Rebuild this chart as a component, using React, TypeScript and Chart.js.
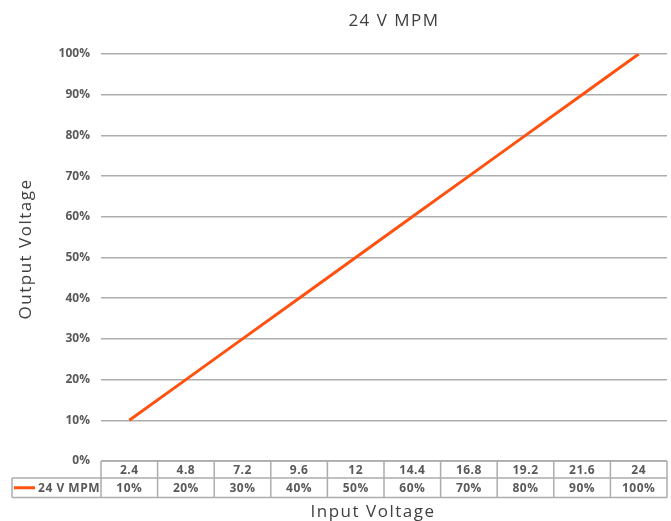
import React, { useEffect, useRef } from "react";
import { Chart, registerables } from "chart.js";

Chart.register(...registerables);

const chartTitle = "24 V MPM";
const seriesName = "24 V MPM";
const inputVoltages = ["2.4", "4.8", "7.2", "9.6", "12", "14.4", "16.8", "19.2", "21.6", "24"];
const outputPercent = [10, 20, 30, 40, 50, 60, 70, 80, 90, 100];
const xAxisTitle = "Input Voltage";
const yAxisTitle = "Output Voltage";

const FONT = "'Open Sans', 'Noto Sans', sans-serif";
const LINE_COLOR = "#FF5210";
const GRID_COLOR = "#ADADAD";
const TEXT_COLOR = "#595959";
const TITLE_COLOR = "#404040";

const tablePlugin = {
  id: "dataTable",
  afterDraw(chart: any) {
    const ctx = chart.ctx;
    const area = chart.chartArea;
    const xs = chart.scales.x;
    const n = inputVoltages.length;
    const colW = (area.right - area.left) / n;
    const r1Top = area.bottom;
    const r1Bot = r1Top + 17;
    const r2Bot = r1Bot + 19.5;
    const legLeft = 12;

    ctx.save();
    ctx.strokeStyle = GRID_COLOR;
    ctx.lineWidth = 1.5;
    ctx.beginPath();
    ctx.moveTo(area.left, r1Top);
    ctx.lineTo(area.right, r1Top);
    ctx.moveTo(legLeft, r1Bot);
    ctx.lineTo(area.right, r1Bot);
    ctx.moveTo(legLeft, r2Bot);
    ctx.lineTo(area.right, r2Bot);
    for (let i = 0; i <= n; i++) {
      const x = area.left + i * colW;
      ctx.moveTo(x, r1Top);
      ctx.lineTo(x, r2Bot);
    }
    ctx.moveTo(legLeft, r1Bot);
    ctx.lineTo(legLeft, r2Bot);
    ctx.stroke();

    ctx.fillStyle = TEXT_COLOR;
    ctx.font = `bold 12px ${FONT}`;
    (ctx as any).letterSpacing = "0.5px";
    ctx.textAlign = "center";
    ctx.textBaseline = "middle";
    for (let i = 0; i < n; i++) {
      const cx = xs.getPixelForValue(i);
      ctx.fillText(inputVoltages[i], cx, (r1Top + r1Bot) / 2 + 1);
      ctx.fillText(outputPercent[i] + "%", cx, (r1Bot + r2Bot) / 2 + 1);
    }

    // legend key
    const ly = (r1Bot + r2Bot) / 2;
    ctx.strokeStyle = LINE_COLOR;
    ctx.lineWidth = 3;
    ctx.beginPath();
    ctx.moveTo(legLeft + 2, ly);
    ctx.lineTo(legLeft + 23, ly);
    ctx.stroke();
    ctx.textAlign = "right";
    ctx.fillText(seriesName, area.left - 1, ly + 1);

    // titles
    ctx.fillStyle = TITLE_COLOR;
    ctx.font = `400 17px ${FONT}`;
    (ctx as any).letterSpacing = "1.5px";
    ctx.textAlign = "center";
    ctx.fillText(xAxisTitle, 373, 512);
    ctx.fillText(chartTitle, 394, 21);
    ctx.save();
    ctx.translate(26, 249);
    ctx.rotate(-Math.PI / 2);
    ctx.fillText(yAxisTitle, 0, 0);
    ctx.restore();
    (ctx as any).letterSpacing = "0px";
    ctx.restore();
  },
};

export default function App() {
  const ref = useRef<HTMLCanvasElement>(null);
  useEffect(() => {
    if (!ref.current) return;
    const chart = new Chart(ref.current, {
      type: "line",
      data: {
        labels: inputVoltages,
        datasets: [
          {
            label: seriesName,
            data: outputPercent,
            borderColor: LINE_COLOR,
            backgroundColor: LINE_COLOR,
            borderWidth: 3,
            pointRadius: 0,
            tension: 0,
          },
        ],
      },
      options: {
        animation: false,
        responsive: true,
        maintainAspectRatio: false,
        layout: { padding: { top: 54, right: 4, bottom: 60, left: 0 } },
        plugins: {
          legend: { display: false },
          title: { display: false },
          tooltip: { enabled: false },
        },
        scales: {
          x: {
            type: "category",
            offset: true,
            display: false,
          },
          y: {
            min: 0,
            max: 100,
            ticks: {
              stepSize: 10,
              padding: 11,
              color: TEXT_COLOR,
              font: { family: FONT, size: 12, weight: "bold" },
              callback: (v: any) => v + "%",
            },
            grid: { color: GRID_COLOR, lineWidth: 1.5, drawTicks: false },
            border: { display: false },
            title: { display: false },
            afterFit: (scale: any) => {
              scale.width = 101;
            },
          },
        },
      },
      plugins: [tablePlugin],
    });
    return () => chart.destroy();
  }, []);
  return (
    <div style={{ position: "absolute", left: 0, top: 0, width: 671, height: 521 }}>
      <canvas ref={ref} />
    </div>
  );
}
